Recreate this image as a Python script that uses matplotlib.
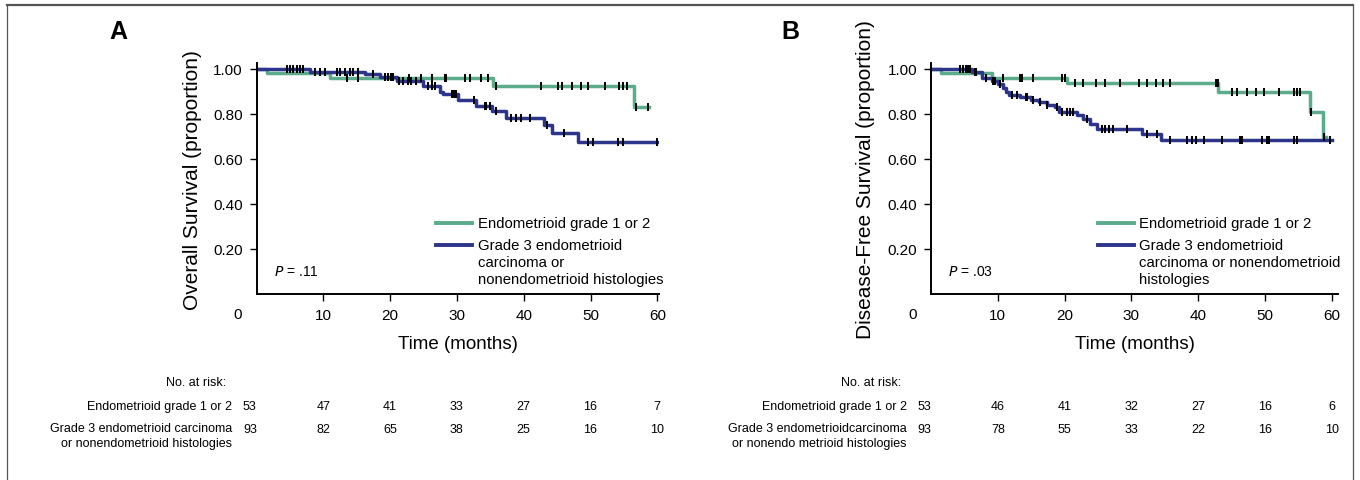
import numpy as np
import matplotlib
matplotlib.use("Agg")
import matplotlib.pyplot as plt
from matplotlib.lines import Line2D
from matplotlib.transforms import blended_transform_factory

plt.rcParams["font.family"] = ["Liberation Sans", "DejaVu Sans"]
NARROW = ["Liberation Sans Narrow", "Liberation Sans", "DejaVu Sans"]

GREEN = "#5cab8c"
BLUE = "#2c358a"

# ---- Panel A: overall survival ----
os_green_t = [0, 1.5, 11.0, 35.4, 56.5]
os_green_s = [1.0, 0.982, 0.959, 0.926, 0.833]
os_green_end = 58.8
os_green_cens = [13.5, 15.2, 22.9, 24.7, 26.2, 28.2, 28.4, 31.2, 31.9, 33.6, 34.6,
                 35.9, 42.6, 45.1, 45.8, 47.3, 48.6, 49.7, 52.1, 54.2, 54.9, 55.5,
                 56.8, 58.6]

os_blue_t = [0, 8.0, 16.2, 18.5, 21.0, 24.9, 27.4, 27.9, 30.2, 32.8, 35.2, 37.4,
             43.1, 44.3, 48.1]
os_blue_s = [1.0, 0.988, 0.978, 0.963, 0.948, 0.926, 0.90, 0.89, 0.864, 0.837,
             0.815, 0.781, 0.751, 0.716, 0.677]
os_blue_end = 60.0
os_blue_cens = [4.5, 5.0, 5.5, 6.0, 6.5, 7.0, 8.7, 9.5, 10.2, 12.0, 12.5, 13.2, 14.0,
                14.5, 15.2, 17.5, 19.2, 19.7, 20.2, 20.4, 21.4, 21.9, 22.7, 23.2,
                23.9, 25.7, 26.2, 26.7, 29.2, 29.4, 29.7, 29.9, 32.6, 34.2, 34.4,
                34.9, 35.9, 38.1, 38.9, 39.6, 40.9, 43.5, 46.1, 49.6, 50.3, 54.1,
                54.8, 60.0]

# ---- Panel B: disease-free survival ----
dfs_green_t = [0, 1.45, 9.1, 20.3, 43.0, 56.8, 58.7]
dfs_green_s = [1.0, 0.982, 0.96, 0.938, 0.90, 0.81, 0.70]
dfs_green_end = 59.1
dfs_green_cens = [10.8, 13.3, 13.6, 15.3, 19.6, 20.0, 21.6, 22.8, 24.7, 26.0, 28.3,
                  31.2, 32.3, 33.7, 34.8, 35.8, 42.6, 42.9, 45.1, 45.8, 47.3, 48.6,
                  49.8, 52.1, 54.3, 54.8, 55.3, 56.9, 58.9]

dfs_blue_t = [0, 6.1, 7.6, 9.1, 10.1, 10.8, 11.3, 11.7, 13.3, 14.9, 16.1, 17.3,
              18.6, 19.1, 21.8, 22.8, 23.8, 24.8, 31.6, 34.4]
dfs_blue_s = [1.0, 0.985, 0.959, 0.948, 0.933, 0.914, 0.896, 0.884, 0.877, 0.864,
              0.852, 0.841, 0.83, 0.81, 0.796, 0.778, 0.756, 0.733, 0.711, 0.686]
dfs_blue_end = 60.1
dfs_blue_cens = [4.3, 4.8, 5.3, 5.6, 5.8, 6.6, 6.8, 8.2, 9.3, 9.6, 10.3, 12.1, 12.8,
                 14.2, 14.4, 15.3, 16.3, 17.3, 18.8, 19.6, 20.3, 20.8, 21.3, 23.3,
                 25.6, 26.1, 26.6, 27.3, 29.4, 32.3, 33.9, 35.8, 38.3, 39.1, 39.7,
                 40.8, 43.6, 46.3, 46.6, 49.6, 50.3, 50.6, 54.3, 54.8, 59.8]

# ---- numbers at risk ----
risk_times = [0, 10, 20, 30, 40, 50, 60]
os_risk_green = [53, 47, 41, 33, 27, 16, 7]
os_risk_blue = [93, 82, 65, 38, 25, 16, 10]
dfs_risk_green = [53, 46, 41, 32, 27, 16, 6]
dfs_risk_blue = [93, 78, 55, 33, 22, 16, 10]

risk_label_green = "Endometrioid grade 1 or 2"
os_risk_label_blue = "Grade 3 endometrioid carcinoma\nor nonendometrioid histologies"
dfs_risk_label_blue = "Grade 3 endometrioidcarcinoma\nor nonendo metrioid histologies"

legend_green = "Endometrioid grade 1 or 2"
os_legend_blue = ["Grade 3 endometrioid", "carcinoma or", "nonendometrioid histologies"]
dfs_legend_blue = ["Grade 3 endometrioid", "carcinoma or nonendometrioid", "histologies"]

W, H = 1360, 481
fig = plt.figure(figsize=(W / 100, H / 100), dpi=100)


def km(ax, t, s, end, cens, color):
    x = list(t) + [end]
    y = list(s) + [s[-1]]
    ax.step(x, y, where="post", color=color, lw=2.5, zorder=2)
    idx = np.searchsorted(t, cens, side="right") - 1
    ax.plot(cens, np.array(s)[idx], ls="none", marker="|", ms=5.5, mew=1.4,
            color="black", zorder=3)


def panel(left_px, xmax, ylabel, curves, ptxt, leg_x, leg_blue, risk_g, risk_b,
          blue_label, letter, letter_x):
    px_per = 6.68
    bottom_px = 295
    top_px = 295 - 1.025 * 225
    ax = fig.add_axes([left_px / W, 1 - bottom_px / H, xmax * px_per / W,
                       (bottom_px - top_px) / H])
    for c in curves:
        km(ax, *c)
    ax.set_xlim(0, xmax)
    ax.set_ylim(0, 1.025)
    ax.set_xticks([10, 20, 30, 40, 50, 60])
    ax.set_yticks([0.2, 0.4, 0.6, 0.8, 1.0])
    ax.set_yticklabels(["0.20", "0.40", "0.60", "0.80", "1.00"])
    ax.tick_params(direction="out", length=5, width=1, labelsize=11, pad=5)
    for side in ["top", "right"]:
        ax.spines[side].set_visible(False)
    for side in ["left", "bottom"]:
        ax.spines[side].set_linewidth(1.4)
    ax.text(-2.8, -0.09, "0", fontsize=11, ha="center", va="center",
            transform=ax.transData)
    ax.set_ylabel(ylabel, fontsize=15, va="center")
    ax.yaxis.set_label_coords(-0.16, 0.5)
    ax.set_xlabel("Time (months)", fontsize=13.5, va="center")
    ax.xaxis.set_label_coords(0.5, -0.216)

    # legend
    ax.plot([leg_x, leg_x + 5.4], [0.316, 0.316], color=GREEN, lw=2.8)
    ax.plot([leg_x, leg_x + 5.4], [0.218, 0.218], color=BLUE, lw=2.8)
    ax.text(leg_x + 6.2, 0.316, legend_green, fontsize=10.7, va="center")
    for i, line in enumerate(leg_blue):
        ax.text(leg_x + 6.2, 0.218 - i * 0.075, line, fontsize=10.7, va="center")
    ax.text(2.6, 0.102, "$P$ = " + ptxt, fontsize=10, va="center")

    # risk table
    tr = blended_transform_factory(ax.transData, fig.transFigure)
    fig.text(-4.5, 1 - 383 / H, "No. at risk:", transform=tr, ha="right",
             va="center", fontsize=9, family=NARROW)
    fig.text(-3.6, 1 - 407 / H, risk_label_green, transform=tr, ha="right",
             va="center", fontsize=9, family=NARROW)
    fig.text(-3.6, 1 - 423 / H, blue_label, transform=tr, ha="right",
             va="top", fontsize=9, family=NARROW, linespacing=1.35)
    for t, g, b in zip(risk_times, risk_g, risk_b):
        xx = t - 1.0 if t == 0 else t
        fig.text(xx, 1 - 407 / H, str(g), transform=tr, ha="center",
                 va="center", fontsize=9, family=NARROW)
        fig.text(xx, 1 - 430 / H, str(b), transform=tr, ha="center",
                 va="center", fontsize=9, family=NARROW)

    fig.text(letter_x / W, 1 - 32 / H, letter, fontsize=18, fontweight="bold",
             ha="center", va="center")
    return ax


panel(256.5, 60.3, "Overall Survival (proportion)",
      [(os_green_t, os_green_s, os_green_end, os_green_cens, GREEN),
       (os_blue_t, os_blue_s, os_blue_end, os_blue_cens, BLUE)],
      ".11", 26.9, os_legend_blue, os_risk_green, os_risk_blue,
      os_risk_label_blue, "A", 118)

panel(931, 61.0, "Disease-Free Survival (proportion)",
      [(dfs_green_t, dfs_green_s, dfs_green_end, dfs_green_cens, GREEN),
       (dfs_blue_t, dfs_blue_s, dfs_blue_end, dfs_blue_cens, BLUE)],
      ".03", 25.0, dfs_legend_blue, dfs_risk_green, dfs_risk_blue,
      dfs_risk_label_blue, "B", 790)

# frame around the figure
fig.add_artist(Line2D([7 / W, 1353 / W], [1 - 6 / H, 1 - 6 / H], color="#555555", lw=1.6))
fig.add_artist(Line2D([7 / W, 7 / W], [0, 1 - 6 / H], color="#555555", lw=0.9))
fig.add_artist(Line2D([1353 / W, 1353 / W], [0, 1 - 6 / H], color="#555555", lw=0.9))

fig.savefig("out.png", dpi=100)
